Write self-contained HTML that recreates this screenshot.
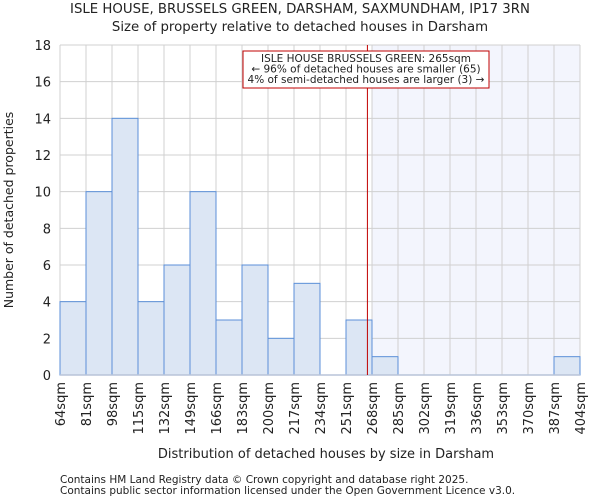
<!DOCTYPE html>
<html><head><meta charset="utf-8"><style>
body{margin:0;background:#fff;font-family:"DejaVu Sans","Liberation Sans",sans-serif;}
svg text{font-family:"DejaVu Sans","Liberation Sans",sans-serif;fill:#222;}
</style></head><body>
<svg id="chart" width="600" height="500" xmlns="http://www.w3.org/2000/svg">
<text x="300" y="13" font-size="13.3" text-anchor="middle">ISLE HOUSE, BRUSSELS GREEN, DARSHAM, SAXMUNDHAM, IP17 3RN</text>
<text x="300" y="31" font-size="13.3" text-anchor="middle">Size of property relative to detached houses in Darsham</text>
<g id="plot"></g>
<text x="326" y="458" font-size="13" text-anchor="middle">Distribution of detached houses by size in Darsham</text>
<text transform="translate(13,210) rotate(-90)" font-size="12.5" text-anchor="middle">Number of detached properties</text>
<text x="60" y="483" font-size="10.5">Contains HM Land Registry data © Crown copyright and database right 2025.</text>
<text x="60" y="494" font-size="10.5">Contains public sector information licensed under the Open Government Licence v3.0.</text>
</svg>
<script>
const binEdges=[64,81,98,115,132,149,166,183,200,217,234,251,268,285,302,319,336,353,370,387,404];
const counts=[4,10,14,4,6,10,3,6,2,5,0,3,1,0,0,0,0,0,0,1];
const yTicks=[0,2,4,6,8,10,12,14,16,18];
const subjectSize=265;
const highlightFrom=268;
const L=60,R=580,T=45,B=375,ymax=18;
const sx=v=>L+(v-binEdges[0])/(binEdges[binEdges.length-1]-binEdges[0])*(R-L);
const sy=v=>B-v/ymax*(B-T);
const NS='http://www.w3.org/2000/svg';
const g=document.getElementById('plot');
function mk(tag,at,parent){const e=document.createElementNS(NS,tag);for(const k in at)e.setAttribute(k,at[k]);(parent||g).appendChild(e);return e;}
let e=mk('rect',{x:sx(highlightFrom),y:T,width:R-sx(highlightFrom),height:B-T,fill:'#f3f5fd'});


yTicks.forEach(t=>{
 let l=mk('line',{x1:L,x2:R,y1:sy(t),y2:sy(t),stroke:'#d0d0d0','stroke-width':1});
 
 
 let tx=mk('text',{x:L-9,y:sy(t)+5,'font-size':13,'text-anchor':'end'});tx.textContent=t;
 
 
});
binEdges.forEach(b=>{
 let l=mk('line',{x1:sx(b),x2:sx(b),y1:T,y2:B,stroke:'#d0d0d0','stroke-width':1});
 
 
 let x=sx(b)+5;
 let tx=mk('text',{transform:`translate(${x},382) rotate(-90)`,'font-size':13,'text-anchor':'end'});tx.textContent=b+'sqm';
 
 
});
counts.forEach((c,i)=>{
 if(c<=0)return;
 let r=mk('rect',{x:sx(binEdges[i]),y:sy(c),width:sx(binEdges[i+1])-sx(binEdges[i]),height:B-sy(c),fill:'#dce6f4',stroke:'#5b8fd8','stroke-width':1});
 
 
});
let ax=mk('line',{x1:L,x2:R,y1:B,y2:B,stroke:'#b8c4d8','stroke-width':1.5});


let rl=mk('line',{x1:sx(subjectSize),x2:sx(subjectSize),y1:T,y2:B,stroke:'#c00000','stroke-width':1});


let box=mk('rect',{x:243,y:51,width:246,height:37,fill:'#fff',stroke:'#c00000','stroke-width':1});


['ISLE HOUSE BRUSSELS GREEN: 265sqm','← 96% of detached houses are smaller (65)','4% of semi-detached houses are larger (3) →'].forEach((s,i)=>{
 let t=mk('text',{x:366,y:62+i*10.5,'font-size':10.5,'text-anchor':'middle'});t.textContent=s;
 
 
});
</script>
</body></html>
